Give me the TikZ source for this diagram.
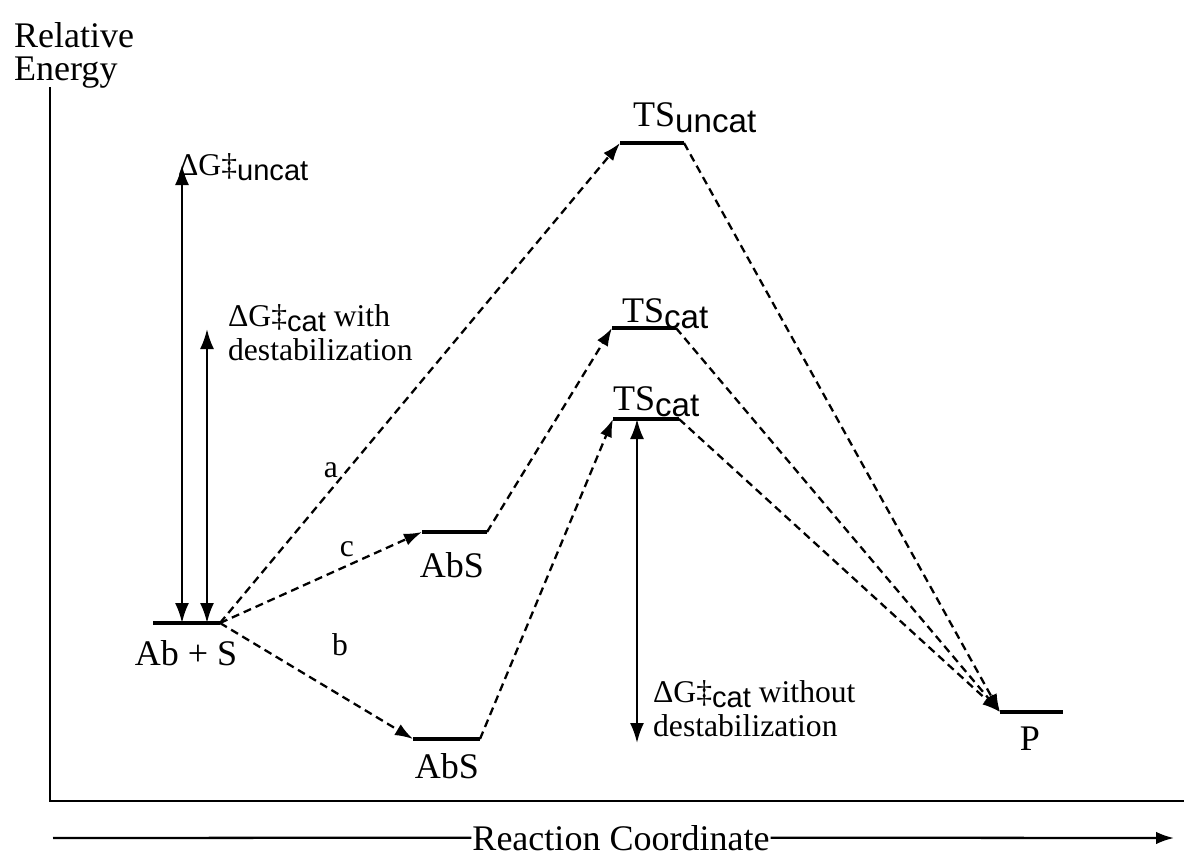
\documentclass[tikz,border=0pt]{standalone}
\usepackage{fontspec}
\setmainfont{Liberation Serif}
\setsansfont{Liberation Sans}
\usetikzlibrary{arrows.meta}
\newcommand{\sbs}[1]{\raisebox{-0.38ex}{\sffamily\scalebox{0.92}{#1}}}
\newcommand{\bigtxt}{\fontsize{20.5}{19}\selectfont}
\newcommand{\smtxt}{\fontsize{18}{19.5}\selectfont}

\begin{document}
\begin{tikzpicture}[x=0.02cm, y=-0.02cm, line width=1.3pt,
		lvl/.style={line width=1.8pt},
		route/.style={dash pattern=on 0.16cm off 0.1cm, -{Latex[length=0.36cm,width=0.25cm]}},
		barrier/.style={{Latex[length=0.4cm,width=0.28cm]}-{Latex[length=0.4cm,width=0.28cm]}},
		lbl/.style={font=\bigtxt, inner sep=0pt},
		note/.style={font=\smtxt, inner sep=0pt, align=left}]
		\useasboundingbox (0,0) rectangle (1184,856);
		
		% axes
		\draw (50,87) -- (50,801) -- (1184,801);
		\node[lbl, anchor=north west, align=left] (yax) at (13,21) {Relative\\Energy};
		\node[lbl, anchor=base] (xax) at (621,850) {Reaction Coordinate};
		\coordinate (xs) at (53,838);
		\coordinate (xe) at (1174,838);
		\draw (xs) -- (xax.west);
		\draw[-{Latex[length=0.36cm,width=0.25cm]}] (xax.east) -- (xe);
		
		% energy levels
		\coordinate (rL) at (153,623); \coordinate (rR) at (220,623);
		\coordinate (cL) at (422,532); \coordinate (cR) at (487,532);
		\coordinate (bL) at (413,739); \coordinate (bR) at (480,739);
		\coordinate (uL) at (620,143); \coordinate (uR) at (684,143);
		\coordinate (tL) at (612,328); \coordinate (tR) at (676,328);
		\coordinate (sL) at (613,419); \coordinate (sR) at (679,419);
		\coordinate (pL) at (1000,712); \coordinate (pR) at (1063,712);
		\foreach \a/\b in {rL/rR, cL/cR, bL/bR, uL/uR, tL/tR, sL/sR, pL/pR}{
			\draw[lvl] (\a) -- (\b);
		}
		
		\node[lbl, anchor=base] (react) at (186,665) {Ab + S};
		\node[lbl, anchor=base] (absc) at (452,577) {AbS};
		\node[lbl, anchor=base] (absb) at (447,778) {AbS};
		\node[lbl, anchor=base] (prod) at (1030,750) {P};
		\node[lbl, anchor=base west] (tsu) at (632,126) {TS\sbs{uncat}};
		\node[lbl, anchor=base west] (tsc) at (621,322) {TS\sbs{cat}};
		\node[lbl, anchor=base west] (tss) at (612,410) {TS\sbs{cat}};
		
		% pathways
		\draw[route] (rR) -- (uL);
		\draw[route] (rR) -- (cL);
		\draw[route] (rR) -- (bL);
		\draw[route] (cR) -- (tL);
		\draw[route] (bR) -- (sL);
		\foreach \s in {uR, tR, sR}{
			\draw[route] (\s) -- (pL);
		}
		\node[note] (pa) at (331,470) {a};
		\node[note] (pc) at (347,549) {c};
		\node[note, anchor=base] (pb) at (340,655) {b};
		
		% barriers
		\coordinate (gu) at (182,165); \coordinate (gu0) at (182,623);
		\coordinate (gw) at (207,329); \coordinate (gw0) at (207,623);
		\coordinate (gn) at (637,419); \coordinate (gn0) at (637,743);
		\draw[barrier] (gu0) -- (gu);
		\draw[barrier] (gw0) -- (gw);
		\draw[barrier] (gn) -- (gn0);
		\node[note, anchor=base west] (dgu) at (177,175) {ΔG‡\sbs{uncat}};
		\node[note, anchor=north west] (dgw) at (227,303) {ΔG‡\sbs{cat} with\\destabilization};
		\node[note, anchor=north west] (dgn) at (652,679) {ΔG‡\sbs{cat} without\\destabilization};
	\end{tikzpicture}
\end{document}
